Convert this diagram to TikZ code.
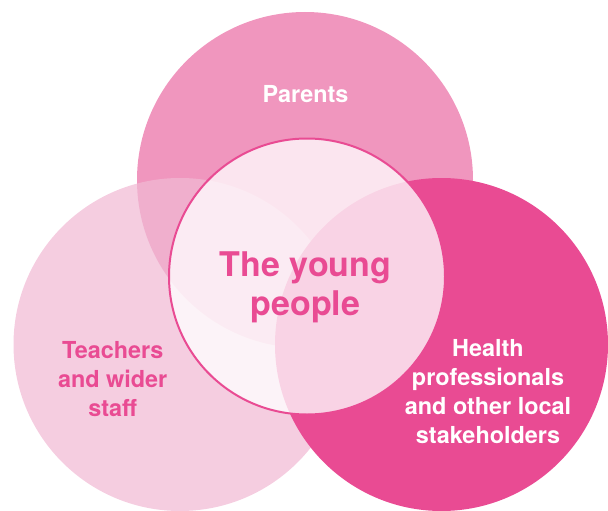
\documentclass[tikz,border=0pt]{standalone}
\usepackage{fontspec}
\setmainfont{TeX Gyre Heros}
\usepackage{tikz}

\definecolor{parentpink}{HTML}{F096BE}
\definecolor{staffpink}{HTML}{F1BAD4}
\definecolor{healthpink}{HTML}{E94B93}

\begin{document}
\begin{tikzpicture}[line cap=round,line join=round,x=1pt,y=-1pt]
        \useasboundingbox (0,0) rectangle (608,511);
        % the three outer circles
        \fill [parentpink] (305,180) circle (168);
        \fill [staffpink,fill opacity=0.72] (180,344.5) circle (166.5);
        \fill [healthpink] (441.5,344.5) circle (166.5);
        % the young people in the middle
        \filldraw [draw=healthpink,line width=2pt,fill=white,fill opacity=0.76] (307,276.5) circle (138);
        \node [text=white,font=\bfseries\fontsize{23.4}{29}\selectfont] (parents) at (305.5,94) {Parents};
        \node [text=healthpink,align=center,font=\bfseries\fontsize{23.4}{29}\selectfont] (teachers) at (112.7,379) {Teachers\\and wider\\staff};
        \node [text=white,align=center,font=\bfseries\fontsize{23.4}{29}\selectfont] (health) at (488,392) {Health\\professionals\\and other local\\stakeholders};
        \node [text=healthpink,align=center,font=\bfseries\fontsize{34}{38.5}\selectfont] (young) at (305.5,287.5) {The young\\people};
    \end{tikzpicture}
\end{document}
